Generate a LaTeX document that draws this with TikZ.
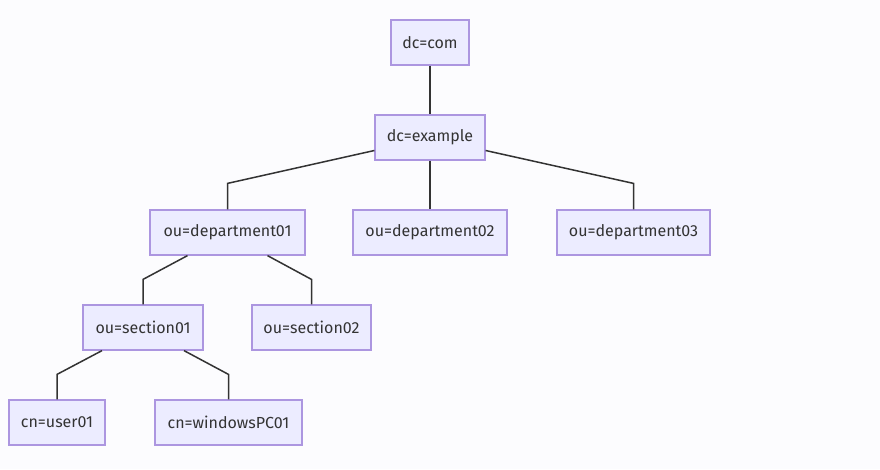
\documentclass[tikz,border=0pt]{standalone}
\usepackage{fontspec}
\setmainfont{Fira Sans}
\usepackage{xcolor}
\usetikzlibrary{positioning, calc}
\definecolor{boxfill}{HTML}{ECECFF}
\definecolor{boxline}{RGB}{172,150,224}
\definecolor{edgeline}{HTML}{333333}
\definecolor{bgcol}{RGB}{252,252,254}

\begin{document}
\begin{tikzpicture}[
  x=1pt, y=-1pt,
  entry/.style={rectangle, draw=boxline, fill=boxfill, line width=1.2pt, minimum height=45pt, inner sep=0pt, font=\fontsize{16}{18}\selectfont, text=edgeline},
  edge/.style={draw=edgeline, line width=1.5pt}
]
  % Canvas
  \fill[bgcol] (0,0) rectangle (880,469);
  \useasboundingbox (0,0) rectangle (880,469);

  % Entries
  \node[entry, minimum width=78pt]  (com) at (430, 42.5) {dc=com};
  \node[entry, minimum width=110pt] (ex)  at (430, 137.5) {dc=example};
  \node[entry, minimum width=155pt] (d1)  at (227.5, 232.5) {ou=department01};
  \node[entry, minimum width=154pt] (d2)  at (430, 232.5) {ou=department02};
  \node[entry, minimum width=153pt] (d3)  at (633.5, 232.5) {ou=department03};
  \node[entry, minimum width=120pt] (s1)  at (143, 327.5) {ou=section01};
  \node[entry, minimum width=119pt] (s2)  at (311.5, 327.5) {ou=section02};
  \node[entry, minimum width=96pt]  (u1)  at (57, 422.5) {cn=user01};
  \node[entry, minimum width=147pt] (pc)  at (228.5, 422.5) {cn=windowsPC01};

  % Links
  \draw[edge] (com) -- (ex);
  \draw[edge] ($(ex.west)+(0,13)$) -- ($(d1.north)+(0,-26)$) -- (d1.north);
  \draw[edge] (ex) -- (d2);
  \draw[edge] ($(ex.east)+(0,13)$) -- ($(d3.north)+(0,-26)$) -- (d3.north);
  \draw[edge] ($(d1.south)+(-40,0)$) -- ($(s1.north)+(0,-25)$) -- (s1.north);
  \draw[edge] ($(d1.south)+(40,0)$) -- ($(s2.north)+(0,-25)$) -- (s2.north);
  \draw[edge] ($(s1.south)+(-41,0)$) -- ($(u1.north)+(0,-25)$) -- (u1.north);
  \draw[edge] ($(s1.south)+(41,0)$) -- ($(pc.north)+(0,-25)$) -- (pc.north);
\end{tikzpicture}
\end{document}
